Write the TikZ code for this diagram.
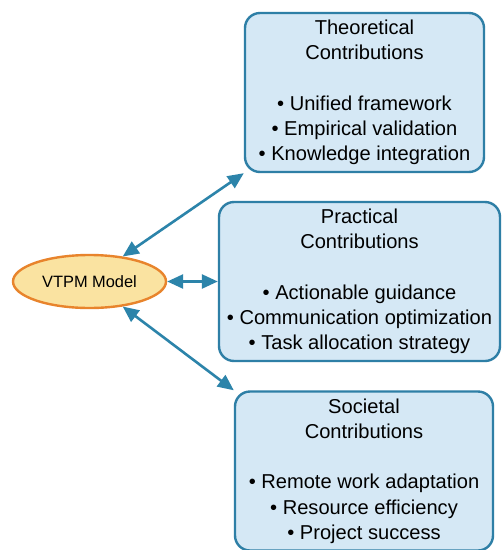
\documentclass[tikz,border=0pt]{standalone}
\usepackage{fontspec}
\setmainfont{Liberation Sans}
\usepackage{xcolor}
\usetikzlibrary{arrows.meta,shapes.geometric}
\definecolor{linkblue}{HTML}{2C84AA}
\definecolor{boxline}{HTML}{2E7FA6}
\definecolor{boxfill}{HTML}{D5E8F5}
\definecolor{modelfill}{HTML}{FAE3A1}
\definecolor{modelline}{HTML}{E8842C}
\tikzset{
  model/.style={
    ellipse,
    draw=modelline,
    line width=2.4pt,
    fill=modelfill,
    inner sep=0pt,
    minimum width=153pt,
    minimum height=53pt,
    font=\fontsize{16.4}{19}\selectfont
  },
  contribbox/.style={
    rectangle,
    rounded corners=15pt,
    draw=boxline,
    line width=2.4pt,
    fill=boxfill,
    align=center,
    inner sep=0pt,
    minimum height=159pt,
    font=\fontsize{20.1}{25.2}\selectfont,
    execute at begin node={\rule{0pt}{26pt}}
  },
  linkedge/.style={
    line width=2.6pt, draw=linkblue,
    {Triangle[length=16pt,width=14pt]}-{Triangle[length=16pt,width=14pt]}
  }
}

\begin{document}
\begin{tikzpicture}[x=1pt,y=-1pt]
\useasboundingbox (0,0) rectangle (502,550);
\fill[white] (0,0) rectangle (502,550);

\node[model] (vtpm) at (89.5,281.5) {VTPM Model};

\node[contribbox, minimum width=239pt] (theo) at (364.5,92.5)
  {Theoretical\\Contributions\\[25.2pt]• Unified framework\\• Empirical validation\\• Knowledge integration};
\node[contribbox, minimum width=281pt] (prac) at (359.5,281.5)
  {Practical\\Contributions\\[25.2pt]• Actionable guidance\\• Communication optimization\\• Task allocation strategy};
\node[contribbox, minimum width=258pt] (soc) at (364,471)
  {Societal\\Contributions\\[25.2pt]• Remote work adaptation\\• Resource efficiency\\• Project success};

\draw[linkedge] (vtpm.37) -- (theo.south west);
\draw[linkedge] (vtpm.east) -- (prac.west);
\draw[linkedge] (vtpm.-37) -- (soc.north west);

\end{tikzpicture}
\end{document}
